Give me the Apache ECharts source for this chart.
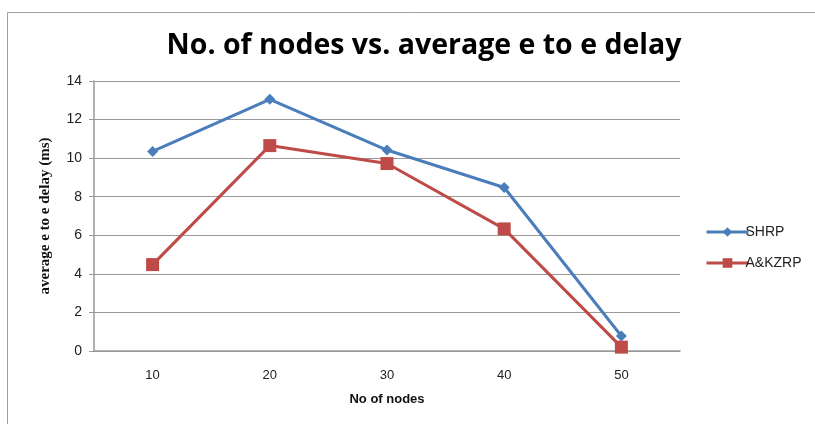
<!DOCTYPE html>
<html><head><meta charset="utf-8">
<script src="https://cdn.jsdelivr.net/npm/echarts@6/dist/echarts.min.js"></script>
<style>html,body{margin:0;padding:0;background:#fff}#c{width:815px;height:424px}</style>
</head><body><div id="c"></div>
<script>
var categories = ['10', '20', '30', '40', '50'];
var shrp = [10.35, 13.05, 10.42, 8.48, 0.78];
var akzrp = [4.48, 10.65, 9.72, 6.33, 0.2];
var yTicks = [0, 2, 4, 6, 8, 10, 12, 14];

var chart = echarts.init(document.getElementById('c'), null, {renderer: 'canvas'});
chart.setOption({
  animation: false,
  backgroundColor: '#fff',
  graphic: [{
    type: 'polyline', silent: true,
    shape: {points: [[7.5, 424], [7.5, 12.5], [815, 12.5]]},
    style: {stroke: '#a0a0a0', lineWidth: 1, fill: null}
  }],
  title: {
    text: 'No. of nodes vs. average e to e delay',
    left: 419, top: 26, textAlign: 'center',
    textStyle: {fontFamily: 'Open Sans', fontWeight: 'bold', fontSize: 28.5, color: '#000'}
  },
  legend: {
    orient: 'vertical', left: 700, top: 220, itemGap: 17,
    itemWidth: 42, itemHeight: 12,
    lineStyle: {width: 3},
    textStyle: {fontFamily: 'Liberation Sans', fontSize: 14, color: '#222', padding: [0,0,0,-8]},
    data: ['SHRP', 'A&KZRP']
  },
  grid: {left: 94, right: 135, top: 81, bottom: 73},
  xAxis: {
    type: 'category', data: categories, boundaryGap: true,
    name: 'No of nodes', nameLocation: 'middle', nameGap: 42,
    nameTextStyle: {fontFamily: 'Liberation Sans', fontWeight: 'bold', fontSize: 13, color: '#111'},
    axisLine: {lineStyle: {color: '#999', width: 1.5}},
    axisTick: {show: false},
    axisLabel: {fontFamily: 'Liberation Sans', fontSize: 13, color: '#222', margin: 18}
  },
  yAxis: {
    type: 'value', min: yTicks[0], max: yTicks[yTicks.length - 1], interval: 2,
    name: 'average e to e delay (ms)', nameLocation: 'middle', nameGap: 41,
    nameTextStyle: {fontFamily: 'Liberation Serif', fontWeight: 'bold', fontSize: 15, color: '#111'},
    axisLine: {show: true, lineStyle: {color: '#999', width: 1.5}},
    axisTick: {show: true, length: 5, lineStyle: {color: '#999'}},
    axisLabel: {fontFamily: 'Liberation Sans', fontSize: 14, color: '#222', margin: 12},
    splitLine: {lineStyle: {color: '#999', width: 1}}
  },
  series: [{
    name: 'SHRP', type: 'line', data: shrp,
    symbol: 'diamond', symbolSize: 11,
    lineStyle: {color: '#4a7ebb', width: 3},
    itemStyle: {color: '#4a7ebb'}
  }, {
    name: 'A&KZRP', type: 'line', data: akzrp,
    symbol: 'rect', symbolSize: 13,
    lineStyle: {color: '#be4b48', width: 3},
    itemStyle: {color: '#be4b48'}
  }]
});
</script></body></html>
